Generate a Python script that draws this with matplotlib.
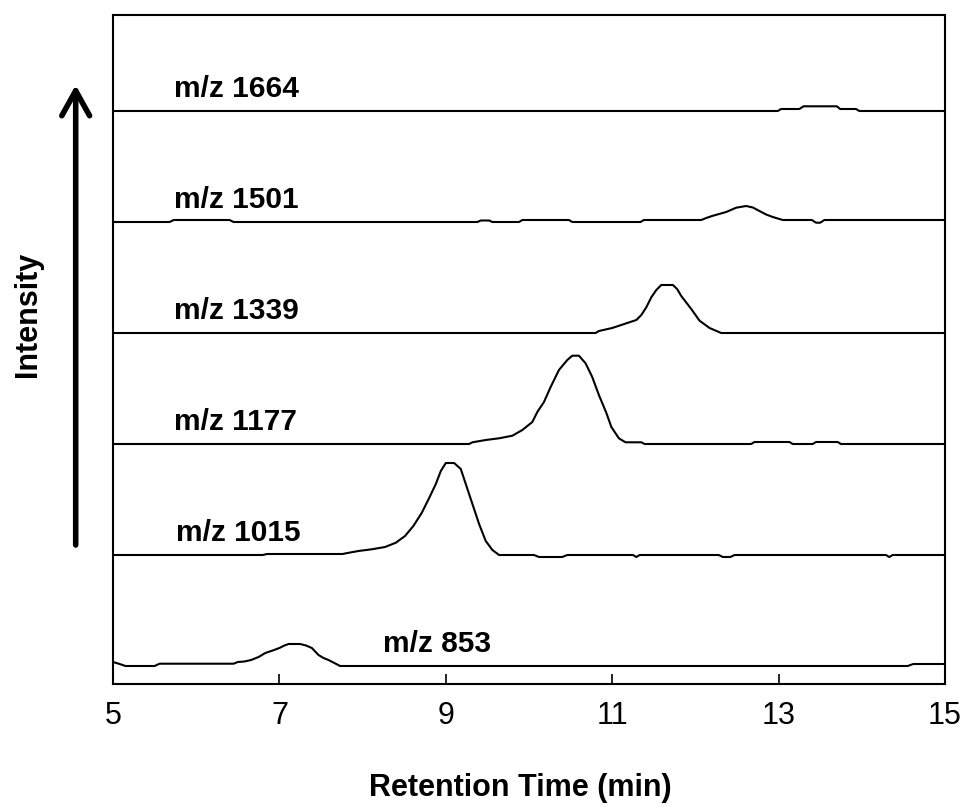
import matplotlib.pyplot as plt

plt.rcParams["font.family"] = ["Liberation Sans", "DejaVu Sans"]

# retention time (min) / intensity pairs for each extracted ion trace
t_853 = [5.0, 5.08, 5.15, 5.50, 5.56, 6.45, 6.50, 6.58, 6.66, 6.75, 6.83, 6.92,
         7.0, 7.06, 7.11, 7.25, 7.32, 7.39, 7.47, 7.53, 7.59, 7.66, 7.73, 14.55,
         14.62, 15.0]
i_853 = [4, 2, 0, 0, 2.3, 2.3, 4, 4.5, 6, 9, 13, 15.5,
         18, 20.5, 22, 22, 20.5, 18, 11, 8, 6, 3, 0, 0,
         2, 2]

t_1015 = [5.0, 6.80, 6.85, 7.76, 7.80, 7.95, 8.11, 8.27, 8.40, 8.51, 8.61, 8.71,
          8.80, 8.88, 8.94, 9.00, 9.10, 9.18, 9.24, 9.32, 9.40, 9.48, 9.56, 9.64,
          10.06, 10.12, 10.40, 10.46, 11.25, 11.29, 11.33, 12.28, 12.33, 12.42,
          12.47, 14.29, 14.33, 14.37, 15.0]
i_1015 = [0, 0, 1, 1, 1.7, 4, 5.7, 8, 12.3, 19, 29, 42,
          57, 71, 84, 92, 92, 86, 71, 51, 31, 14, 5, 0,
          0, -2, -2, 0, 0, -2, 0, 0, -2, -2,
          0, 0, -2, 0, 0]

t_1177 = [5.0, 9.28, 9.32, 9.48, 9.64, 9.80, 9.92, 10.04, 10.10, 10.18, 10.26,
          10.36, 10.46, 10.52, 10.60, 10.68, 10.76, 10.84, 10.93, 10.99, 11.08,
          11.16, 11.35, 11.39, 12.67, 12.71, 13.13, 13.17, 13.41, 13.45, 13.71,
          13.75, 15.0]
i_1177 = [0, 0, 1.7, 4, 5.7, 8.3, 14, 22, 32, 42, 57,
          74, 84, 88.3, 88.3, 80.7, 67, 49, 31, 17, 5.7,
          1.7, 1.7, 0, 0, 2, 2, 0, 0, 2, 2,
          0, 0]

t_1339 = [5.0, 10.80, 10.84, 11.00, 11.17, 11.29, 11.35, 11.41, 11.47, 11.53,
          11.59, 11.73, 11.78, 11.83, 11.95, 12.05, 12.17, 12.31, 15.0]
i_1339 = [0, 0, 2, 5, 9.7, 13, 18, 25.7, 35.7, 43,
          48, 48, 44, 37, 24, 12.3, 5, 0, 0]

t_1501 = [5.0, 5.68, 5.73, 6.40, 6.45, 9.38, 9.42, 9.52, 9.56, 9.88, 9.92, 10.48,
          10.52, 11.34, 11.38, 12.07, 12.13, 12.20, 12.37, 12.49, 12.61, 12.69,
          12.77, 12.85, 12.93, 13.05, 13.40, 13.45, 13.50, 13.55, 15.0]
i_1501 = [0, 0, 2, 2, 0, 0, 1.5, 1.5, 0, 0, 2, 2,
          0, 0, 2, 2, 4, 6, 10, 14.3, 16, 14.5,
          11, 7.5, 5, 2, 2, -0.7, -0.7, 2, 2]

t_1664 = [5.0, 12.99, 13.03, 13.25, 13.30, 13.70, 13.74, 13.93, 13.97, 15.0]
i_1664 = [0, 0, 2, 2, 4.7, 4.7, 2, 2, 0, 0]

labels = ["m/z 853", "m/z 1015", "m/z 1177", "m/z 1339", "m/z 1501", "m/z 1664"]
label_x = [8.24, 5.76, 5.735, 5.735, 5.735, 5.735]
traces = [(t_853, i_853), (t_1015, i_1015), (t_1177, i_1177),
          (t_1339, i_1339), (t_1501, i_1501), (t_1664, i_1664)]
offset = 111

fig = plt.figure(figsize=(9.63, 8.06), dpi=100)
ax = fig.add_axes([113 / 963, 122 / 806, 832 / 963, 669 / 806])

for k, (t, inten) in enumerate(traces):
    base = k * offset
    ax.plot(t, [v + base for v in inten], color="black", lw=1.5)
    ax.text(label_x[k], base + 14, labels[k], fontsize=21.5, fontweight="bold",
            ha="left", va="baseline")

ax.set_xlim(5, 15)
ax.set_ylim(-18, 651)
ax.set_xticks([5, 7, 9, 11, 13, 15])
ax.set_yticks([])
ax.tick_params(axis="x", direction="in", length=7, width=1.2, labelsize=22, pad=12)
for s in ax.spines.values():
    s.set_linewidth(1.5)

ax.set_xlabel("Retention Time (min)", fontsize=22, fontweight="bold")
ax.xaxis.set_label_coords(0.49, -0.133)
ax.xaxis.label.set_va("top")

fig.text(28 / 963, 1 - 314 / 806, "Intensity", rotation=90, fontsize=22,
         fontweight="bold", ha="center", va="center")
ax.annotate("", xy=(75.7 / 963, 1 - 85 / 806), xytext=(75.7 / 963, 1 - 545 / 806),
            xycoords="figure fraction", textcoords="figure fraction",
            arrowprops=dict(arrowstyle="->,head_length=0.9,head_width=0.5",
                            lw=4, color="black", mutation_scale=20,
                            shrinkA=0, shrinkB=0))

fig.savefig("out.png", dpi=100)
